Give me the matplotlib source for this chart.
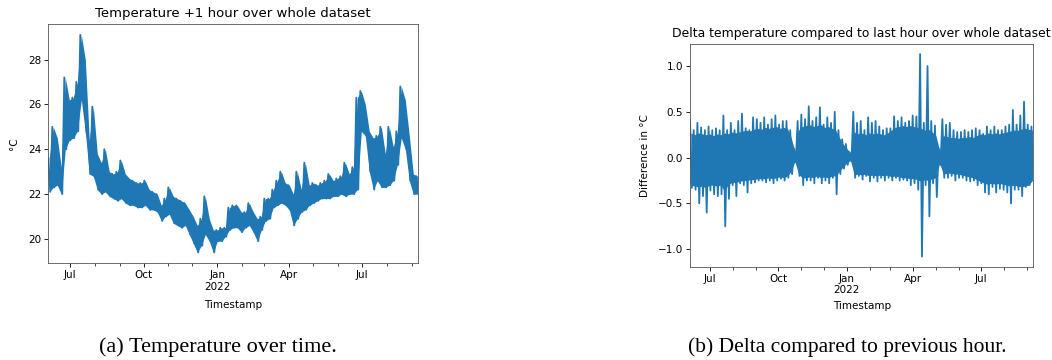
import numpy as np
import pandas as pd
import matplotlib
matplotlib.use("Agg")
import matplotlib.pyplot as plt
import matplotlib.dates as mdates
from matplotlib.ticker import FuncFormatter

# ---------------- data ----------------
start_date = "2021-06-04"
step_days = 5  # one high/low pair per 5-day bin

# Temperature (+1 hour) : per-bin high and low (°C)
temp_high = [23.6, 25.0, 24.5, 23.2, 27.2, 26.2, 26.3, 27.0, 29.1, 28.0,
             24.4, 25.9, 23.8, 23.4, 24.0, 23.0, 22.9, 23.0, 23.5, 22.9,
             22.7, 22.6, 22.5, 22.5, 22.6, 22.2, 22.1, 22.0, 21.5, 21.8,
             22.3, 21.9, 21.8, 21.7, 21.6, 21.3, 21.0, 20.6, 20.9, 21.9,
             20.9, 20.4, 20.4, 20.5, 20.5, 21.4, 21.5, 21.5, 21.2, 21.2,
             21.6, 21.2, 20.9, 21.0, 21.8, 21.8, 22.2, 22.6, 23.0, 22.5,
             22.4, 22.0, 23.0, 22.2, 23.4, 22.4, 22.5, 22.4, 22.5, 22.6,
             22.9, 22.6, 22.7, 22.8, 23.4, 22.9, 23.2, 26.3, 26.6, 26.0,
             24.8, 24.5, 24.6, 25.0, 23.8, 25.0, 24.1, 24.8, 26.8, 26.2,
             24.6, 22.9, 22.8]
temp_low = [22.1, 22.3, 22.4, 22.0, 24.0, 24.4, 24.5, 24.8, 26.2, 24.8,
            22.9, 22.8, 22.2, 22.0, 22.1, 21.9, 21.8, 21.7, 21.8, 21.6,
            21.5, 21.5, 21.4, 21.4, 21.5, 21.3, 21.3, 21.2, 20.8, 21.0,
            21.1, 20.7, 20.6, 20.5, 20.6, 20.2, 19.8, 19.4, 19.7, 20.2,
            19.9, 19.4, 19.9, 19.9, 20.1, 20.4, 20.5, 20.5, 20.3, 20.5,
            20.6, 20.3, 19.9, 20.4, 20.8, 20.9, 21.4, 21.5, 21.6, 21.5,
            21.3, 20.6, 20.9, 21.2, 21.3, 21.5, 21.6, 21.7, 21.8, 21.8,
            21.8, 21.9, 21.9, 22.0, 21.9, 22.0, 22.0, 22.2, 24.8, 24.6,
            23.0, 22.2, 22.6, 22.3, 22.3, 22.4, 22.6, 23.3, 24.5, 24.0,
            22.6, 22.0, 22.0]

# Delta to previous hour : per-bin largest rise and largest drop (°C)
delta_up = [0.42, 0.30, 0.38, 0.33, 0.30, 0.34, 0.30, 0.32, 0.30, 0.46,
            0.30, 0.38, 0.30, 0.40, 0.48, 0.32, 0.30, 0.44, 0.42, 0.38,
            0.44, 0.36, 0.42, 0.46, 0.36, 0.40, 0.40, 0.30, 0.10, 0.40,
            0.47, 0.42, 0.56, 0.40, 0.44, 0.55, 0.36, 0.44, 0.38, 0.50,
            0.30, 0.20, 0.15, 0.06, 0.50, 0.38, 0.40, 0.30, 0.44, 0.38,
            0.40, 0.34, 0.30, 0.32, 0.32, 0.45, 0.40, 0.44, 0.38, 0.40,
            0.46, 0.45, 1.13, 0.38, 1.00, 0.40, 0.35, 0.10, 0.42, 0.36,
            0.38, 0.30, 0.28, 0.28, 0.30, 0.28, 0.30, 0.32, 0.30, 0.26,
            0.34, 0.30, 0.34, 0.30, 0.30, 0.34, 0.36, 0.52, 0.36, 0.46,
            0.61, 0.36, 0.34]
delta_down = [-0.33, -0.35, -0.50, -0.42, -0.60, -0.36, -0.40, -0.42, -0.40, -0.75,
              -0.45, -0.30, -0.42, -0.28, -0.30, -0.38, -0.28, -0.27, -0.25, -0.25,
              -0.27, -0.25, -0.28, -0.25, -0.23, -0.25, -0.22, -0.18, -0.05, -0.20,
              -0.30, -0.25, -0.25, -0.28, -0.22, -0.28, -0.25, -0.28, -0.22, -0.40,
              -0.18, -0.12, -0.08, -0.04, -0.22, -0.20, -0.24, -0.20, -0.26, -0.22,
              -0.26, -0.22, -0.25, -0.22, -0.25, -0.22, -0.25, -0.24, -0.25, -0.30,
              -0.28, -0.35, -1.08, -0.30, -0.64, -0.28, -0.43, -0.08, -0.22, -0.22,
              -0.20, -0.25, -0.22, -0.22, -0.25, -0.26, -0.25, -0.30, -0.28, -0.38,
              -0.40, -0.32, -0.38, -0.34, -0.35, -0.38, -0.50, -0.35, -0.35, -0.42,
              -0.32, -0.30, -0.24]
# Delta : per-bin dense core of the band (°C)
delta_core_up = [0.27, 0.25, 0.27, 0.26, 0.25, 0.26, 0.24, 0.26, 0.25, 0.27,
                 0.26, 0.28, 0.27, 0.28, 0.29, 0.30, 0.29, 0.31, 0.32, 0.31,
                 0.33, 0.32, 0.33, 0.34, 0.32, 0.33, 0.32, 0.22, 0.07, 0.30,
                 0.34, 0.35, 0.36, 0.34, 0.35, 0.36, 0.33, 0.34, 0.32, 0.30,
                 0.22, 0.15, 0.10, 0.05, 0.28, 0.26, 0.27, 0.25, 0.27, 0.26,
                 0.27, 0.26, 0.25, 0.27, 0.30, 0.33, 0.34, 0.35, 0.34, 0.35,
                 0.34, 0.33, 0.32, 0.30, 0.31, 0.28, 0.24, 0.08, 0.24, 0.23,
                 0.22, 0.22, 0.21, 0.22, 0.22, 0.23, 0.22, 0.24, 0.26, 0.25,
                 0.27, 0.26, 0.27, 0.26, 0.27, 0.28, 0.29, 0.30, 0.30, 0.31,
                 0.32, 0.31, 0.30]
delta_core_down = [-0.30, -0.31, -0.32, -0.31, -0.33, -0.30, -0.30, -0.31, -0.30, -0.36,
                   -0.30, -0.27, -0.27, -0.26, -0.25, -0.25, -0.24, -0.24, -0.23, -0.23,
                   -0.23, -0.22, -0.23, -0.22, -0.21, -0.22, -0.20, -0.15, -0.04, -0.18,
                   -0.22, -0.22, -0.21, -0.22, -0.20, -0.22, -0.21, -0.22, -0.20, -0.20,
                   -0.15, -0.10, -0.06, -0.03, -0.19, -0.18, -0.19, -0.18, -0.20, -0.19,
                   -0.20, -0.19, -0.20, -0.19, -0.21, -0.20, -0.21, -0.22, -0.22, -0.23,
                   -0.23, -0.24, -0.26, -0.24, -0.25, -0.23, -0.22, -0.06, -0.18, -0.17,
                   -0.17, -0.18, -0.18, -0.19, -0.20, -0.21, -0.22, -0.24, -0.26, -0.28,
                   -0.29, -0.28, -0.29, -0.28, -0.29, -0.30, -0.31, -0.30, -0.31, -0.32,
                   -0.31, -0.30, -0.25]

titles = ["Temperature +1 hour over whole dataset",
          "Delta temperature compared to last hour over whole dataset"]
ylabels = ["°C", "Difference in °C"]
captions = ["(a) Temperature over time.", "(b) Delta compared to previous hour."]


def bin_times(n, offset_hours=0, shift_days=0.0):
    t0 = pd.Timestamp(start_date) + pd.Timedelta(hours=offset_hours)
    return pd.DatetimeIndex([t0 + pd.Timedelta(days=step_days * i + shift_days)
                             for i in range(n)])


def zigzag(highs, lows, offset_hours=0):
    """Alternate each bin's high and low so the line sweeps the band."""
    th = bin_times(len(highs), offset_hours)
    tl = bin_times(len(lows), offset_hours, step_days / 2)
    times, vals = [], []
    for a, h, b, l in zip(th, highs, tl, lows):
        times += [a, b]
        vals += [h, l]
    return pd.Series(vals, index=pd.DatetimeIndex(times))


temp_series = zigzag(temp_high, temp_low)
delta_series = zigzag(delta_up, delta_down, offset_hours=1)

# ---------------- figure ----------------
W, H = 1052, 360
fig = plt.figure(figsize=(W / 100, H / 100), dpi=100)
color = "#1f77b4"

ax1 = fig.add_axes([48.3 / W, 1 - 263.3 / H, 370 / W, 239.3 / H])
ax2 = fig.add_axes([690 / W, 1 - 266.7 / H, 343.3 / W, 222.7 / H])

# dense band bodies
tb = bin_times(len(temp_high), 0, step_days / 4)
ax1.fill_between(tb, temp_low, temp_high, color=color, lw=0)
tb2 = bin_times(len(delta_core_up), 1, step_days / 4)
ax2.fill_between(tb2, delta_core_down, delta_core_up, color=color, lw=0)


def date_fmt(x, pos=None):
    d = mdates.num2date(x)
    if d.month == 1:
        return d.strftime("%b") + "\n" + d.strftime("%Y")
    return d.strftime("%b")


for ax, s, title, ylab, tsize in [(ax1, temp_series, titles[0], ylabels[0], 9.5),
                                  (ax2, delta_series, titles[1], ylabels[1], 8.9)]:
    ax.plot(s.index, s.values, color=color, lw=1.3)
    ax.set_xlim(s.index[0], s.index[-1])
    ax.set_title(title, fontsize=tsize, pad=5)
    ax.set_ylabel(ylab, fontsize=7.5)
    ax.set_xlabel("Timestamp", fontsize=7.5)
    ax.xaxis.set_major_locator(mdates.MonthLocator(bymonth=[1, 4, 7, 10]))
    ax.xaxis.set_minor_locator(mdates.MonthLocator())
    ax.xaxis.set_major_formatter(FuncFormatter(date_fmt))
    ax.xaxis.set_minor_formatter(FuncFormatter(lambda x, p: ""))
    ax.tick_params(axis="both", which="major", labelsize=7.5, length=3, width=0.6, pad=2)
    ax.tick_params(axis="both", which="minor", length=2, width=0.5)
    for sp in ax.spines.values():
        sp.set_linewidth(0.6)
        sp.set_color("#555555")
    for lab in ax.get_xticklabels():
        lab.set_ha("center")

ax1.set_yticks([20, 22, 24, 26, 28])
ax1.yaxis.set_label_coords(-0.079, 0.5)
ax1.xaxis.set_label_coords(0.5, -0.153)
ax2.set_yticks([-1.0, -0.5, 0.0, 0.5, 1.0])
ax2.yaxis.set_major_formatter(FuncFormatter(lambda v, p: f"{v:.1f}".replace("-", "\u2212")))
ax2.yaxis.set_label_coords(-0.1165, 0.5)
ax2.xaxis.set_label_coords(0.5, -0.154)

fig.text(218 / W, 1 - 347 / H, captions[0], ha="center", va="center",
         family="Liberation Serif", fontsize=16)
fig.text(847 / W, 1 - 347 / H, captions[1], ha="center", va="center",
         family="Liberation Serif", fontsize=15.5)

fig.savefig("out.png", dpi=100)
